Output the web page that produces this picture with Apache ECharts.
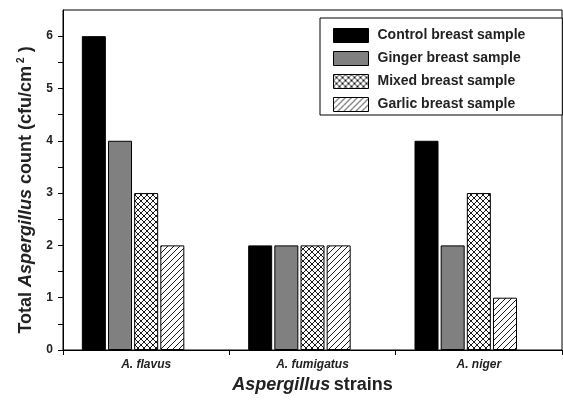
<!DOCTYPE html>
<html><head><meta charset="utf-8">
<script src="https://cdn.jsdelivr.net/npm/echarts@6/dist/echarts.min.js"></script>
<style>html,body{margin:0;padding:0;background:#fff}#c{width:563px;height:401px}</style>
</head><body><div id="c"></div>
<script>
const categories = ['A. flavus', 'A. fumigatus', 'A. niger'];
const seriesNames = ['Control breast sample', 'Ginger breast sample', 'Mixed breast sample', 'Garlic breast sample'];
const control = [6, 2, 4];
const ginger = [4, 2, 2];
const mixed = [3, 2, 3];
const garlic = [2, 2, 1];
const yTicks = [0, 1, 2, 3, 4, 5, 6];
const yMinorTicks = [0, 0.5, 1, 1.5, 2, 2.5, 3, 3.5, 4, 4.5, 5, 5.5, 6];

function makePattern(kind) {
  const s = 6;
  const c = document.createElement('canvas');
  c.width = s; c.height = s;
  const g = c.getContext('2d');
  g.fillStyle = '#fff'; g.fillRect(0, 0, s, s);
  g.strokeStyle = '#000'; g.lineWidth = 0.9;
  function fwd() {
    g.beginPath();
    g.moveTo(-1, s + 1); g.lineTo(s + 1, -1);
    g.moveTo(-1, 1); g.lineTo(1, -1);
    g.moveTo(s - 1, s + 1); g.lineTo(s + 1, s - 1);
    g.stroke();
  }
  function back() {
    g.beginPath();
    g.moveTo(-1, -1); g.lineTo(s + 1, s + 1);
    g.moveTo(-1, s - 1); g.lineTo(1, s + 1);
    g.moveTo(s - 1, -1); g.lineTo(s + 1, 1);
    g.stroke();
  }
  fwd();
  if (kind === 'cross') back();
  return { image: c, repeat: 'repeat' };
}

const fills = ['#000000', '#808080', makePattern('cross'), makePattern('fwd')];
const datas = [control, ginger, mixed, garlic];

const series = seriesNames.map((n, i) => ({
  name: n, type: 'bar', data: datas[i], barWidth: 24, barGap: '9%',
  itemStyle: { color: fills[i], borderColor: '#000', borderWidth: 1 }
}));
series.push({ name: 'spacer', type: 'bar', data: [], barWidth: 24, barGap: '9%', silent: true });

const FF = 'Liberation Sans, Arial';
const chart = echarts.init(document.getElementById('c'), null, { renderer: 'canvas' });
chart.setOption({
  animation: false,
  backgroundColor: '#fff',
  grid: { left: 63, right: 1, top: 10, bottom: 51, show: true, borderColor: '#000', borderWidth: 1 },
  legend: {
    data: seriesNames, orient: 'vertical', left: 320, top: 18, icon: 'rect',
    itemWidth: 35, itemHeight: 14, itemGap: 8,
    padding: [10, 37, 3, 13],
    borderColor: '#000', borderWidth: 1, backgroundColor: '#fff',
    textStyle: { fontFamily: FF, fontWeight: 'bold', fontSize: 14, color: '#222', padding: [0, 0, 0, 4] },
    itemStyle: { borderColor: '#000', borderWidth: 1 }
  },
  xAxis: {
    type: 'category', data: categories,
    axisLine: { lineStyle: { color: '#000', width: 1 } },
    axisTick: { show: true, inside: false, length: 5, lineStyle: { color: '#000' } },
    axisLabel: { fontFamily: FF, fontWeight: 'bold', fontStyle: 'italic', fontSize: 12, color: '#222', margin: 9 },
    name: '{i|Aspergillus} {b|strains}', nameLocation: 'middle', nameGap: 26,
    nameTextStyle: {
      rich: {
        i: { fontFamily: FF, fontWeight: 'bold', fontStyle: 'italic', fontSize: 18, color: '#222' },
        b: { fontFamily: FF, fontWeight: 'bold', fontSize: 18, color: '#222' }
      }
    },
    splitLine: { show: false }
  },
  yAxis: {
    type: 'value', min: 0, max: 6.5,
    axisLine: { show: true, lineStyle: { color: '#000', width: 1 } },
    axisTick: { show: true, inside: false, length: 5, lineStyle: { color: '#000' }, customValues: yMinorTicks },
    axisLabel: { fontFamily: FF, fontWeight: 'bold', fontSize: 12, color: '#222', margin: 10, customValues: yTicks },
    splitLine: { show: false },
    name: '{b|Total }{i|Aspergillus}{b| count (cfu/cm}{s|2}{b| )}', nameLocation: 'middle', nameGap: 26, nameRotate: 90,
    nameTextStyle: {
      padding: [0, 20, 0, 0],
      rich: {
        b: { fontFamily: FF, fontWeight: 'bold', fontSize: 18, color: '#222' },
        i: { fontFamily: FF, fontWeight: 'bold', fontStyle: 'italic', fontSize: 18, color: '#222' },
        s: { fontFamily: FF, fontWeight: 'bold', fontSize: 10, color: '#222', padding: [0, 0, 10, 3] }
      }
    }
  },
  series: series
});
</script></body></html>
